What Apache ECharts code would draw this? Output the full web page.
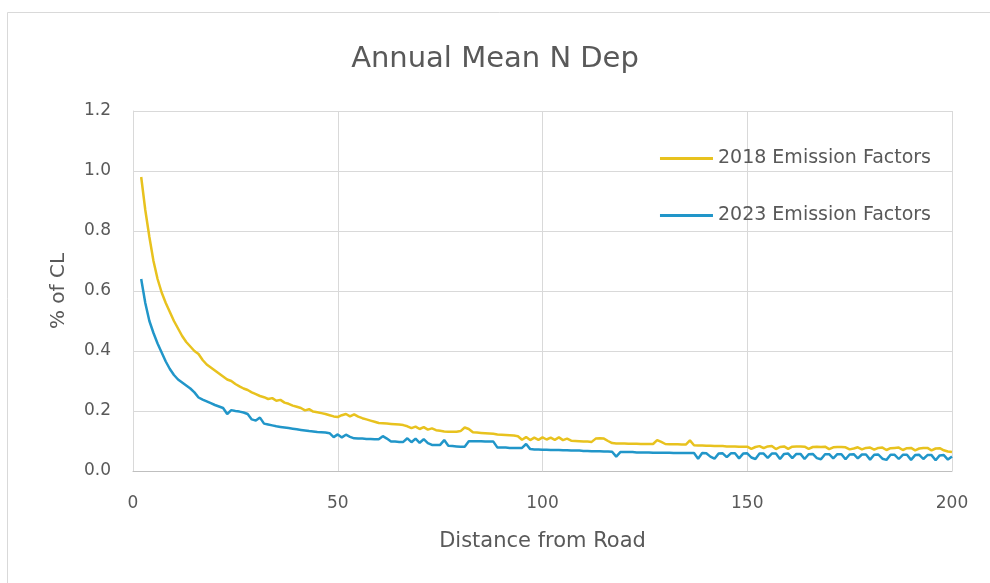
<!DOCTYPE html>
<html>
<head>
<meta charset="utf-8">
<script src="https://cdn.jsdelivr.net/npm/echarts@6/dist/echarts.min.js"></script>
<style>
html,body{margin:0;padding:0;background:#fff;}
#chart{width:990px;height:583px;}
</style>
</head>
<body>
<div id="chart"></div>
<script>
var titleText = 'Annual Mean N Dep';
var xAxisName = 'Distance from Road';
var yAxisName = '% of CL';
var seriesNames = ['2018 Emission Factors', '2023 Emission Factors'];
var xTicks = [0, 50, 100, 150, 200];
var yTicks = ['0.0', '0.2', '0.4', '0.6', '0.8', '1.0', '1.2'];

var distances = [
  2, 3, 4, 5, 6, 7, 8, 9, 10, 11,
  12, 13, 14, 15, 16, 17, 18, 19, 20, 21,
  22, 23, 24, 25, 26, 27, 28, 29, 30, 31,
  32, 33, 34, 35, 36, 37, 38, 39, 40, 41,
  42, 43, 44, 45, 46, 47, 48, 49, 50, 51,
  52, 53, 54, 55, 56, 57, 58, 59, 60, 61,
  62, 63, 64, 65, 66, 67, 68, 69, 70, 71,
  72, 73, 74, 75, 76, 77, 78, 79, 80, 81,
  82, 83, 84, 85, 86, 87, 88, 89, 90, 91,
  92, 93, 94, 95, 96, 97, 98, 99, 100, 101,
  102, 103, 104, 105, 106, 107, 108, 109, 110, 111,
  112, 113, 114, 115, 116, 117, 118, 119, 120, 121,
  122, 123, 124, 125, 126, 127, 128, 129, 130, 131,
  132, 133, 134, 135, 136, 137, 138, 139, 140, 141,
  142, 143, 144, 145, 146, 147, 148, 149, 150, 151,
  152, 153, 154, 155, 156, 157, 158, 159, 160, 161,
  162, 163, 164, 165, 166, 167, 168, 169, 170, 171,
  172, 173, 174, 175, 176, 177, 178, 179, 180, 181,
  182, 183, 184, 185, 186, 187, 188, 189, 190, 191,
  192, 193, 194, 195, 196, 197, 198, 199, 200
];

var ef2018 = [
  0.98, 0.87, 0.78, 0.70, 0.64, 0.595, 0.56, 0.53, 0.50, 0.475,
  0.45, 0.43, 0.415, 0.40, 0.39, 0.37, 0.355, 0.345, 0.335, 0.325,
  0.315, 0.305, 0.30, 0.29, 0.282, 0.275, 0.27, 0.262, 0.256, 0.25,
  0.246, 0.24, 0.243, 0.234, 0.237, 0.228, 0.224, 0.218, 0.214, 0.21,
  0.202, 0.206, 0.198, 0.196, 0.193, 0.19, 0.186, 0.182, 0.18, 0.186,
  0.19, 0.182, 0.189, 0.181, 0.176, 0.172, 0.168, 0.164, 0.16, 0.159,
  0.158, 0.157, 0.156, 0.155, 0.153, 0.149, 0.143, 0.148, 0.14, 0.146,
  0.138, 0.142, 0.136, 0.134, 0.132, 0.131, 0.131, 0.131, 0.133, 0.145,
  0.14, 0.129, 0.128, 0.127, 0.126, 0.125, 0.124, 0.122, 0.121, 0.12,
  0.119, 0.118, 0.116, 0.104, 0.113, 0.103, 0.111, 0.104, 0.112, 0.105,
  0.111, 0.104, 0.112, 0.103, 0.108, 0.101, 0.1, 0.099, 0.098, 0.098,
  0.097, 0.108, 0.109, 0.108, 0.1, 0.093, 0.092, 0.092, 0.092, 0.091,
  0.091, 0.091, 0.09, 0.09, 0.09, 0.09, 0.103, 0.097, 0.09, 0.089,
  0.089, 0.089, 0.088, 0.088, 0.102, 0.086, 0.085, 0.085, 0.084, 0.084,
  0.083, 0.083, 0.083, 0.082, 0.082, 0.082, 0.081, 0.081, 0.081, 0.074,
  0.08, 0.083, 0.076, 0.082, 0.083, 0.073, 0.08, 0.082, 0.074, 0.081,
  0.082, 0.082, 0.081, 0.074, 0.08, 0.081, 0.08, 0.081, 0.073, 0.079,
  0.08, 0.08, 0.079, 0.072, 0.075, 0.079, 0.072, 0.077, 0.078, 0.071,
  0.077, 0.078, 0.07, 0.076, 0.077, 0.078, 0.07, 0.076, 0.077, 0.069,
  0.075, 0.077, 0.077, 0.069, 0.075, 0.076, 0.069, 0.065, 0.063
];

var ef2023 = [
  0.64, 0.56, 0.50, 0.46, 0.425, 0.395, 0.365, 0.34, 0.32, 0.305,
  0.295, 0.285, 0.275, 0.262, 0.245, 0.238, 0.232, 0.226, 0.22, 0.215,
  0.21, 0.19, 0.203, 0.2, 0.198, 0.195, 0.19, 0.172, 0.168, 0.178,
  0.158, 0.155, 0.152, 0.149, 0.147, 0.145, 0.143, 0.141, 0.139, 0.137,
  0.135, 0.133, 0.132, 0.13, 0.129, 0.128, 0.126, 0.113, 0.122, 0.112,
  0.121, 0.114, 0.109, 0.108, 0.108, 0.107, 0.107, 0.106, 0.106, 0.116,
  0.108, 0.098, 0.098, 0.097, 0.097, 0.109, 0.096, 0.108, 0.094, 0.106,
  0.093, 0.087, 0.087, 0.087, 0.103, 0.084, 0.083, 0.082, 0.081, 0.081,
  0.099, 0.099, 0.099, 0.099, 0.098, 0.098, 0.098, 0.078, 0.078, 0.078,
  0.077, 0.077, 0.077, 0.077, 0.09, 0.073, 0.072, 0.072, 0.071, 0.071,
  0.07, 0.07, 0.07, 0.069, 0.069, 0.068, 0.068, 0.068, 0.067, 0.067,
  0.066, 0.066, 0.066, 0.065, 0.065, 0.064, 0.048, 0.063, 0.063, 0.063,
  0.063, 0.062, 0.062, 0.062, 0.062, 0.061, 0.061, 0.061, 0.061, 0.061,
  0.06, 0.06, 0.06, 0.06, 0.06, 0.06, 0.041, 0.06, 0.059, 0.048,
  0.041, 0.058, 0.059, 0.046, 0.059, 0.059, 0.042, 0.058, 0.059, 0.045,
  0.04, 0.058, 0.058, 0.044, 0.058, 0.058, 0.04, 0.057, 0.058, 0.043,
  0.057, 0.057, 0.04, 0.056, 0.057, 0.043, 0.039, 0.056, 0.056, 0.042,
  0.056, 0.056, 0.039, 0.055, 0.056, 0.042, 0.055, 0.055, 0.038, 0.054,
  0.055, 0.041, 0.037, 0.054, 0.054, 0.04, 0.054, 0.054, 0.037, 0.053,
  0.054, 0.04, 0.053, 0.053, 0.036, 0.052, 0.053, 0.038, 0.048
];

function pairs(xs, ys) {
  var out = [];
  for (var i = 0; i < xs.length && i < ys.length; i++) out.push([xs[i], ys[i]]);
  return out;
}

var FONT = 'DejaVu Sans';
var TXT = '#595959';
var YELLOW = '#E8C21E';
var BLUE = '#2196C9';
var chart = echarts.init(document.getElementById('chart'), null, {renderer: 'canvas'});
chart.setOption({
  animation: false,
  backgroundColor: '#ffffff',
  textStyle: {fontFamily: FONT},
  graphic: [{
    type: 'rect',
    silent: true,
    shape: {x: 7.5, y: 12.5, width: 1000, height: 600},
    style: {fill: 'none', stroke: '#d9d9d9', lineWidth: 1}
  }],
  title: {
    text: titleText,
    left: 'center',
    top: 40,
    textStyle: {fontFamily: FONT, fontSize: 29, fontWeight: 'normal', color: TXT}
  },
  legend: {
    orient: 'vertical',
    right: 54,
    top: 144,
    itemGap: 38,
    itemWidth: 53,
    itemHeight: 3,
    icon: 'rect',
    textStyle: {fontFamily: FONT, fontSize: 19, color: TXT, lineHeight: 14},
    data: seriesNames
  },
  grid: {left: 133, right: 38, top: 111, bottom: 112, containLabel: false},
  xAxis: {
    type: 'value',
    min: 0,
    max: 200,
    interval: 50,
    name: xAxisName,
    nameLocation: 'middle',
    nameGap: 60,
    nameTextStyle: {fontFamily: FONT, fontSize: 21, color: TXT},
    axisLine: {show: true, lineStyle: {color: '#bfbfbf', width: 1}},
    axisTick: {show: false},
    axisLabel: {
      margin: 24, fontFamily: FONT, fontSize: 17, color: TXT,
      formatter: function (v) { return xTicks.indexOf(v) >= 0 ? String(v) : ''; }
    },
    splitLine: {show: true, lineStyle: {color: '#d9d9d9', width: 1}}
  },
  yAxis: {
    type: 'value',
    min: 0,
    max: 1.2,
    interval: 0.2,
    name: yAxisName,
    nameLocation: 'middle',
    nameGap: 64,
    nameTextStyle: {fontFamily: FONT, fontSize: 20, color: TXT},
    axisLine: {show: true, lineStyle: {color: '#d9d9d9', width: 1}},
    axisTick: {show: false},
    axisLabel: {
      margin: 22, fontFamily: FONT, fontSize: 17, color: TXT,
      formatter: function (v) { return yTicks[Math.round(v / 0.2)]; }
    },
    splitLine: {show: true, lineStyle: {color: '#d9d9d9', width: 1}}
  },
  series: [
    {
      name: seriesNames[0],
      type: 'line',
      data: pairs(distances, ef2018),
      showSymbol: false,
      symbol: 'none',
      lineStyle: {color: YELLOW, width: 2.5},
      itemStyle: {color: YELLOW},
      z: 2
    },
    {
      name: seriesNames[1],
      type: 'line',
      data: pairs(distances, ef2023),
      showSymbol: false,
      symbol: 'none',
      lineStyle: {color: BLUE, width: 2.5},
      itemStyle: {color: BLUE},
      z: 3
    }
  ]
});
</script>
</body>
</html>
